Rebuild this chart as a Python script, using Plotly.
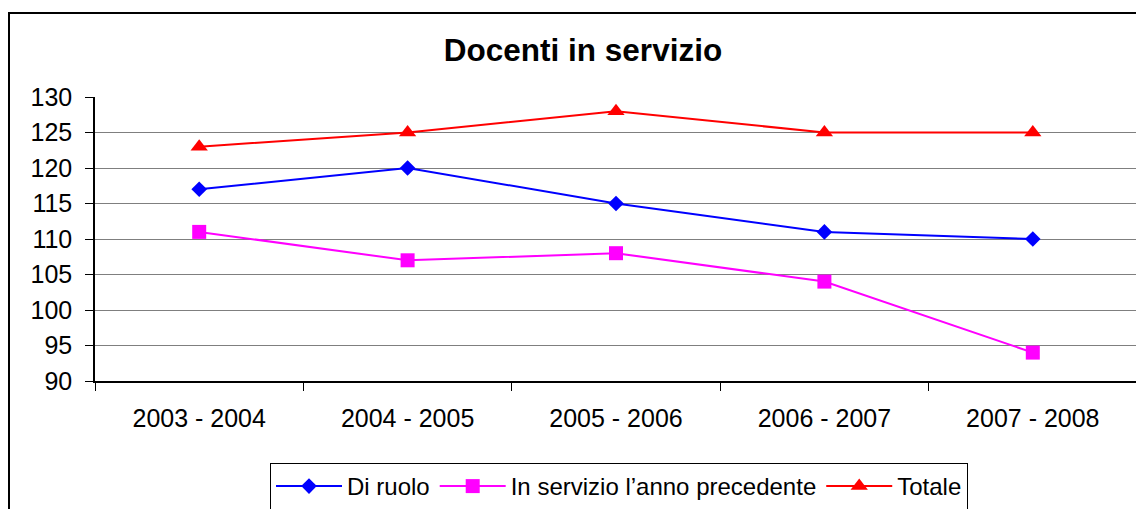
import plotly.graph_objects as go

categories = ["2003 - 2004", "2004 - 2005", "2005 - 2006", "2006 - 2007", "2007 - 2008"]
di_ruolo = [117, 120, 115, 111, 110]
in_servizio_prec = [111, 107, 108, 104, 94]
totale = [123, 125, 128, 125, 125]

FONT = "Liberation Sans, Arial, sans-serif"

fig = go.Figure()
fig.add_trace(go.Scatter(x=categories, y=di_ruolo, name="Di ruolo", mode="lines+markers",
                         line=dict(color="#0000FF", width=2),
                         marker=dict(symbol="diamond", size=12, color="#0000FF")))
fig.add_trace(go.Scatter(x=categories, y=in_servizio_prec, name="In servizio l\u2019anno precedente",
                         mode="lines+markers", line=dict(color="#FF00FF", width=2),
                         marker=dict(symbol="square", size=14, color="#FF00FF")))
fig.add_trace(go.Scatter(x=categories, y=totale, name="Totale", mode="lines+markers",
                         line=dict(color="#FF0000", width=2),
                         marker=dict(symbol="triangle-up", size=15, color="#FF0000")))

# page body has an 8px default margin; work in screen coordinates and subtract it
OFF = 8
W, H = 1144 - OFF, 509 - OFF
PL, PR, PT, PB = 95, 1137, 97, 381  # plot area in screen px
L = PL - OFF
T = PT - OFF
R = W - (PR - OFF)
B = H - (PB - OFF)
pw = PR - PL
ph = PB - PT

def px(x):
    return (x - PL) / pw

def py(y):
    return (PB - y) / ph

fig.update_layout(
    width=W, height=H,
    margin=dict(l=L, r=R, t=T, b=B, autoexpand=False),
    paper_bgcolor="white", plot_bgcolor="white",
    font=dict(family=FONT, size=24, color="black"),
    title=dict(text="<b>Docenti in servizio</b>", x=(583 - OFF) / W, xanchor="center",
               y=1 - (50 - OFF) / H, yanchor="middle", yref="container",
               font=dict(family=FONT, size=31.5, color="black")),
    showlegend=True,
    legend=dict(orientation="h", x=px(619), xanchor="center", y=py(463), yanchor="top",
                bordercolor="black", borderwidth=1, bgcolor="white",
                font=dict(family=FONT, size=24, color="black"),
                itemwidth=66, tracegroupgap=0),
    xaxis=dict(type="category", tickson="boundaries", showgrid=False,
               showline=True, linecolor="black", linewidth=1.5,
               ticks="outside", ticklen=8, tickcolor="black", ticklabelstandoff=14,
               tickfont=dict(family=FONT, size=25), range=[-0.5, 4.5]),
    yaxis=dict(range=[90, 130], dtick=5, showgrid=True, gridcolor="#7f7f7f", gridwidth=1,
               showline=True, linecolor="black", linewidth=1.5,
               ticks="outside", ticklen=8, tickcolor="black", ticklabelstandoff=8,
               tickfont=dict(family=FONT, size=25), zeroline=False),
    shapes=[
        dict(type="line", xref="paper", yref="paper", x0=1, x1=1, y0=0, y1=1,
             line=dict(color="#808080", width=2)),
        dict(type="rect", xref="paper", yref="paper",
             x0=px(9), x1=px(1158), y0=py(520), y1=py(13),
             line=dict(color="black", width=2), fillcolor="rgba(0,0,0,0)", layer="below"),
    ],
)

fig.write_html("out.html")
